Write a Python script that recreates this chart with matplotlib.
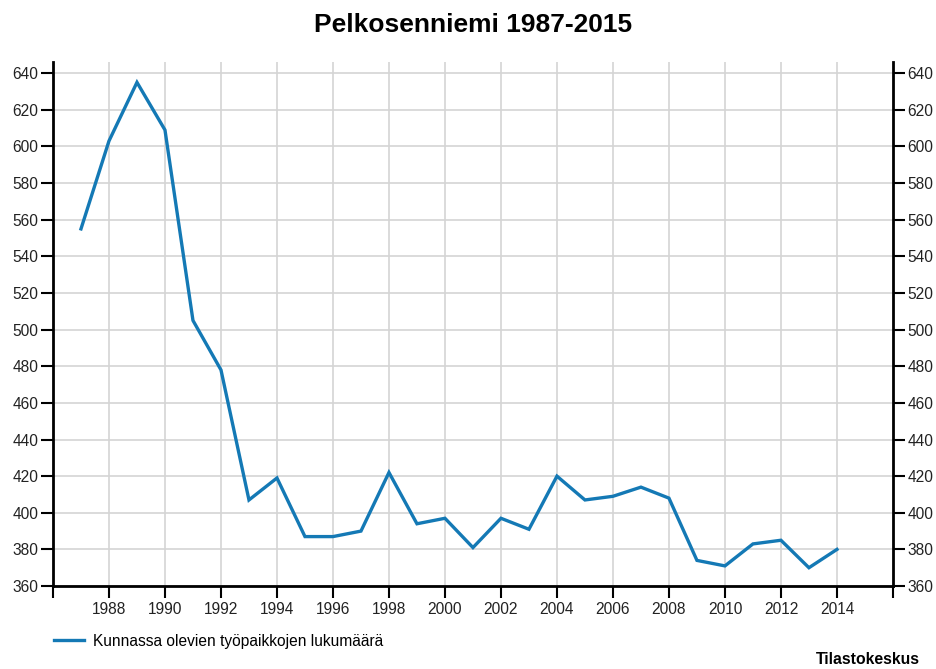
import matplotlib.pyplot as plt

plt.rcParams['font.family'] = ['Liberation Sans', 'DejaVu Sans']

years = list(range(1987, 2015))
jobs = [555, 603, 635, 609, 505, 478, 407, 419, 387, 387, 390, 422, 394, 397,
        381, 397, 391, 420, 407, 409, 414, 408, 374, 371, 383, 385, 370, 380]
x_ticks = list(range(1986, 2017, 2))
x_labels = [str(t) if 1988 <= t <= 2014 else '' for t in x_ticks]
y_ticks = list(range(360, 641, 20))

fig = plt.figure(figsize=(9.36, 6.69), dpi=100)
ax = fig.add_axes([0.0566, 0.124, 0.8974, 0.783])

ax.plot(years, jobs, color='#1479b5', lw=2.4, solid_joinstyle='miter',
        label='Kunnassa olevien työpaikkojen lukumäärä', zorder=3)

ax.set_xlim(1986, 2016)
ax.set_ylim(360, 646)
ax.set_xticks(x_ticks)
ax.set_xticklabels(x_labels)
ax.set_yticks(y_ticks)
ax.grid(True, color='#d4d4d4', lw=1.2)
for t in ax.xaxis.get_gridlines()[:1] + ax.xaxis.get_gridlines()[-1:]:
    t.set_visible(False)

ax.tick_params(axis='both', labelsize=11.2, width=1.5, length=8.5, color='black', labelcolor='#222222')
ax.tick_params(axis='y', left=True, right=True, labelleft=True, labelright=True, pad=2)
ax.tick_params(axis='x', pad=3)

ax.spines['top'].set_visible(False)
for s in ['left', 'right', 'bottom']:
    ax.spines[s].set_linewidth(2)
    ax.spines[s].set_color('black')

ax.set_title('Pelkosenniemi 1987-2015', fontsize=19, fontweight='bold', pad=22)

ax.legend(loc='center left', bbox_to_anchor=(-0.016, -0.105), frameon=False,
          fontsize=11.2, handlelength=1.95, handletextpad=0.6)

fig.text(0.983, 0.003, 'Tilastokeskus', ha='right', va='bottom', fontsize=11.3, fontweight='bold')

fig.savefig('out.png', dpi=100)
